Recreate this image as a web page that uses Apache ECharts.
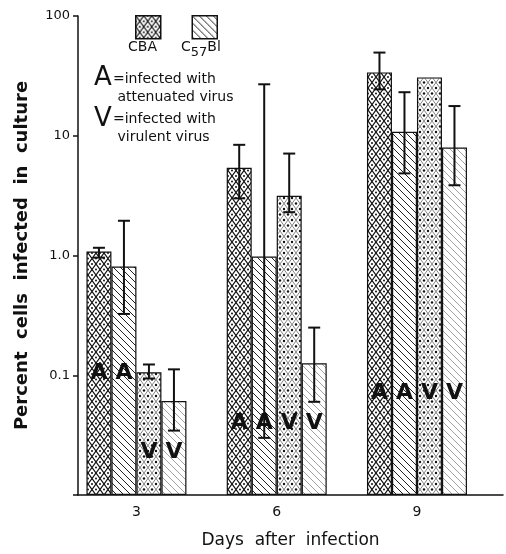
<!DOCTYPE html>
<html>
<head>
<meta charset="utf-8">
<script src="https://cdn.jsdelivr.net/npm/echarts@6/dist/echarts.min.js"></script>
<style>
  html, body { margin: 0; padding: 0; background: #fff; }
  #chart { width: 506px; height: 554px; }
</style>
</head>
<body>
<div id="chart"></div>
<script>
// days after infection
var days = [3, 6, 9];

// bar heights (percent cells infected)
var cbaAtt = [1.08, 5.4, 33.8];
var c57Att = [0.81, 0.98, 10.8];
var cbaVir = [0.106, 3.15, 30.7];
var c57Vir = [0.061, 0.126, 7.96];

// error bar ends
var cbaAttLow  = [0.96, 3.0, 24.4];
var cbaAttHigh = [1.16, 8.4, 49.5];
var c57AttLow  = [0.325, 0.030, 4.85];
var c57AttHigh = [1.95, 26.9, 23.1];
var cbaVirLow  = [0.094, 2.3, null];
var cbaVirHigh = [0.123, 7.1, null];
var c57VirLow  = [0.0345, 0.06, 3.86];
var c57VirHigh = [0.112, 0.25, 17.7];

// height of the A / V letters drawn inside the bars
var letterA = [0.104, 0.040, 0.071];
var letterV = [0.0227, 0.040, 0.071];

var yTicks = { '2': '100', '1': '10', '0': '1.0', '-1': '0.1', '-2': '' };

var BAR_W = 25;
var FONT = 'DejaVu Sans';

function makePattern(kind) {
  var c = document.createElement('canvas');
  var w = 8, h = 11;
  if (kind === 'hatch' || kind === 'hatchLight') { w = 7; h = 7; }
  c.width = w; c.height = h;
  var g = c.getContext('2d');
  g.fillStyle = '#fff';
  g.fillRect(0, 0, w, h);
  if (kind === 'lattice' || kind === 'latticeLight') {
    g.strokeStyle = kind === 'lattice' ? '#111' : '#666';
    g.lineWidth = kind === 'lattice' ? 1.2 : 0.8;
    g.beginPath();
    g.moveTo(0, 0); g.lineTo(w, h);
    g.moveTo(w, 0); g.lineTo(0, h);
    g.stroke();
    g.fillStyle = '#111';
    var r = kind === 'lattice' ? 1 : 1.2;
    [[w / 2, 0], [w / 2, h], [0, h / 2], [w, h / 2]].forEach(function (p) {
      g.beginPath(); g.arc(p[0], p[1], r, 0, Math.PI * 2); g.fill();
    });
  } else {
    g.strokeStyle = kind === 'hatch' ? '#222' : '#888';
    g.lineWidth = kind === 'hatch' ? 1 : 0.8;
    g.beginPath();
    g.moveTo(0, 0); g.lineTo(w, h);
    g.moveTo(-1, h - 1); g.lineTo(1, h + 1);
    g.moveTo(w - 1, -1); g.lineTo(w + 1, 1);
    g.stroke();
  }
  return { image: c, repeat: 'repeat' };
}

var patCbaA = makePattern('lattice');
var patC57A = makePattern('hatch');
var patCbaV = makePattern('latticeLight');
var patC57V = makePattern('hatchLight');

function pairs(vals) {
  return days.map(function (d, i) { return [d, vals[i]]; });
}

function errData(low, high, idx) {
  var out = [];
  days.forEach(function (d, i) {
    if (low[i] != null) out.push([d, low[i], high[i], idx]);
  });
  return out;
}

function barSeries(name, vals, pat) {
  return {
    name: name,
    type: 'bar',
    data: pairs(vals),
    barWidth: BAR_W,
    barGap: '0%',
    itemStyle: { color: pat, borderColor: '#111', borderWidth: 1.2 },
    z: 2
  };
}

var errorData = []
  .concat(errData(cbaAttLow, cbaAttHigh, 0))
  .concat(errData(c57AttLow, c57AttHigh, 1))
  .concat(errData(cbaVirLow, cbaVirHigh, 2))
  .concat(errData(c57VirLow, c57VirHigh, 3));

var letterData = [];
days.forEach(function (d, i) {
  letterData.push([d, letterA[i], 0], [d, letterA[i], 1], [d, letterV[i], 2], [d, letterV[i], 3]);
});

var myChart = echarts.init(document.getElementById('chart'));

var option = {
  animation: false,
  backgroundColor: '#fff',
  textStyle: { fontFamily: FONT, color: '#111' },
  grid: { left: 78, right: 3, top: 16, bottom: 54 },
  legend: {
    data: ['CBA', 'C57Bl'],
    left: 130, top: 10,
    itemWidth: 25, itemHeight: 23, itemGap: 30,
    icon: 'rect',
    formatter: function () { return ''; },
    itemStyle: { borderColor: '#111', borderWidth: 1.5 },
    selectedMode: false
  },
  xAxis: {
    type: 'value',
    min: 1.75, max: 10.84,
    splitLine: { show: false },
    axisLine: { show: true, lineStyle: { color: '#111', width: 1.5 } },
    axisTick: { show: false },
    axisLabel: {
      customValues: days,
      fontSize: 14, color: '#111', margin: 10
    },
    name: 'Days  after  infection',
    nameLocation: 'middle',
    nameGap: 37,
    nameTextStyle: { fontSize: 17, color: '#111' }
  },
  yAxis: {
    type: 'log',
    logBase: 10,
    min: 0.01, max: 100,
    startValue: 0.01,
    splitLine: { show: false },
    minorTick: { show: false },
    axisLine: { show: true, lineStyle: { color: '#111', width: 1.5 } },
    axisTick: { show: true, length: 5, lineStyle: { color: '#111', width: 1.5 } },
    axisLabel: {
      fontSize: 13, color: '#111', margin: 8,
      formatter: function (v) { return yTicks[String(Math.round(Math.log10(v)))]; }
    },
    name: 'Percent  cells  infected  in  culture',
    nameLocation: 'middle',
    nameGap: 47,
    nameTextStyle: { fontSize: 18, fontWeight: 'bold', color: '#111' }
  },
  graphic: [
    { type: 'text', left: 128, top: 40, style: { text: 'CBA', font: '14px ' + FONT, fill: '#111' } },
    { type: 'text', left: 181, top: 40, style: {
        text: '{n|C}{s|57}{n|Bl}', fill: '#111',
        rich: { n: { fontSize: 14, fontFamily: FONT }, s: { fontSize: 13, fontFamily: FONT, padding: [12, 0, 0, 0] } }
    } },
    { type: 'text', left: 94, top: 65, style: { text: 'A', font: '26px ' + FONT, fill: '#111' } },
    { type: 'text', left: 113, top: 70, style: { text: '=infected with\n attenuated virus', font: '14px ' + FONT, fill: '#111', lineHeight: 18 } },
    { type: 'text', left: 94, top: 106, style: { text: 'V', font: '26px ' + FONT, fill: '#111' } },
    { type: 'text', left: 113, top: 110, style: { text: '=infected with\n virulent virus', font: '14px ' + FONT, fill: '#111', lineHeight: 18 } }
  ],
  series: [
    barSeries('CBA', cbaAtt, patCbaA),
    barSeries('C57Bl', c57Att, patC57A),
    barSeries('CBA V', cbaVir, patCbaV),
    barSeries('C57Bl V', c57Vir, patC57V),
    {
      type: 'custom',
      name: 'error',
      data: errorData,
      encode: { x: 0, y: [1, 2] },
      z: 5,
      renderItem: function (params, api) {
        var off = (api.value(3) - 1.5) * BAR_W;
        var lo = api.coord([api.value(0), api.value(1)]);
        var hi = api.coord([api.value(0), api.value(2)]);
        var x = lo[0] + off;
        var cap = 6;
        var st = { stroke: '#111', lineWidth: 2 };
        return {
          type: 'group',
          children: [
            { type: 'line', shape: { x1: x, y1: lo[1], x2: x, y2: hi[1] }, style: st },
            { type: 'line', shape: { x1: x - cap, y1: hi[1], x2: x + cap, y2: hi[1] }, style: st },
            { type: 'line', shape: { x1: x - cap, y1: lo[1], x2: x + cap, y2: lo[1] }, style: st }
          ]
        };
      }
    },
    {
      type: 'custom',
      name: 'letters',
      data: letterData,
      encode: { x: 0, y: 1 },
      z: 6,
      renderItem: function (params, api) {
        var idx = api.value(2);
        var p = api.coord([api.value(0), api.value(1)]);
        return {
          type: 'text',
          x: p[0] + (idx - 1.5) * BAR_W,
          y: p[1],
          style: {
            text: idx < 2 ? 'A' : 'V',
            font: 'bold 22px ' + FONT,
            fill: '#111',
            align: 'center',
            verticalAlign: 'middle'
          }
        };
      }
    }
  ]
};

option && myChart.setOption(option);
</script>
</body>
</html>
